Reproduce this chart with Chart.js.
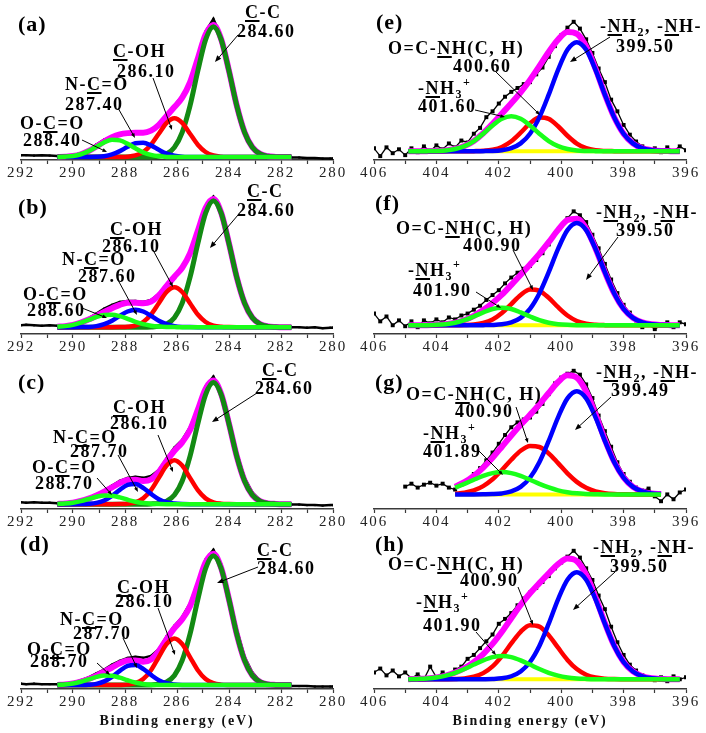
<!DOCTYPE html>
<html>
<head>
<meta charset="utf-8">
<script src="https://cdn.jsdelivr.net/npm/chart.js@4.4.1/dist/chart.umd.min.js"></script>
<style>
  html, body { margin: 0; padding: 0; background: #fff; }
  #fig { position: relative; width: 706px; height: 733px; overflow: hidden; background: #fff; }
  #fig canvas { position: absolute; }
  .lbl { position: absolute; white-space: nowrap; font-family: "Liberation Serif", "Times New Roman", serif;
         font-weight: bold; font-size: 18px; line-height: 1; letter-spacing: 1.5px; color: #000; z-index: 5; }
  .lbl u { text-decoration-thickness: 1.5px; text-underline-offset: 2px; }
  .lbl .sb, .lbl .sp { font-size: 12px; line-height: 0; position: relative; }
  .lbl .sb { top: 4px; }
  .lbl .sp { top: -8px; }
  .lbl.tag { font-size: 22px; letter-spacing: 1px; }
</style>
</head>
<body>
<div id="fig"></div>
<script>
// ---------- axes ----------
const carbonRange = [280, 292];
const nitrogenRange = [396, 406];
const carbonTicks = [292, 290, 288, 286, 284, 282, 280];
const nitrogenTicks = [406, 404, 402, 400, 398, 396];
const axisTitle = "Binding energy (eV)";

// ---------- energies (eV) ----------
const rawEnergyC = [292.0, 291.8, 291.5, 291.2, 290.9, 290.6, 290.3, 290.0, 289.7, 289.4, 289.1, 288.8, 288.5, 288.2,
  287.9, 287.6, 287.3, 287.0, 286.7, 286.4, 286.1, 285.8, 285.5, 285.2, 284.9, 284.6, 284.3, 284.0, 283.7, 283.4,
  283.1, 282.8, 282.5, 282.2, 281.9, 281.6, 281.3, 281.0, 280.7, 280.4, 280.1, 280.0];
const fitEnergyC = [290.6, 290.3, 290.0, 289.7, 289.4, 289.1, 288.8, 288.5, 288.2, 287.9, 287.6, 287.3, 287.0, 286.7,
  286.4, 286.1, 285.8, 285.5, 285.2, 284.9, 284.6, 284.3, 284.0, 283.7, 283.4, 283.1, 282.8, 282.5, 282.2, 281.9, 281.6];
const rawEnergyN = [406.0, 405.8, 405.6, 405.4, 405.2, 405.0, 404.8, 404.6, 404.4, 404.2, 404.0, 403.8, 403.6, 403.4,
  403.2, 403.0, 402.8, 402.6, 402.4, 402.2, 402.0, 401.8, 401.6, 401.4, 401.2, 401.0, 400.8, 400.6, 400.4, 400.2,
  400.0, 399.8, 399.6, 399.4, 399.2, 399.0, 398.8, 398.6, 398.4, 398.2, 398.0, 397.8, 397.6, 397.4, 397.2, 397.0,
  396.8, 396.6, 396.4, 396.2, 396.0];
const fitEnergyN = [404.9, 404.6, 404.3, 404.0, 403.7, 403.4, 403.1, 402.8, 402.5, 402.2, 401.9, 401.6, 401.3, 401.0,
  400.7, 400.4, 400.1, 399.8, 399.5, 399.2, 398.9, 398.6, 398.3, 398.0, 397.7, 397.4, 397.1, 396.8, 396.5, 396.2];
const fitEnergyG = [403.4, 403.1, 402.8, 402.5, 402.2, 401.9, 401.6, 401.3, 401.0, 400.7, 400.4, 400.1, 399.8, 399.5,
  399.2, 398.9, 398.6, 398.3, 398.0, 397.7, 397.4, 397.1, 396.8];

// ---------- (a) C1s ----------
const rawA = [5, 5, 4.5, 5, 4.5, 4, 4.5, 5, 7, 10, 16, 21, 24, 26, 27, 28, 28.5, 31, 37, 46, 56, 66, 81, 105, 132, 145,
  127, 93, 58, 30, 14, 7, 4.5, 3.5, 3, 2.5, 2.5, 2, 2, 1.5, 1.5, 1.5];
const envA = [3.1, 3.4, 4.1, 5.9, 9.2, 13.9, 19.0, 23.5, 26.4, 27.6, 27.9, 27.9, 30.1, 36.1, 45.2, 54.4, 64.1, 79.8,
  104.1, 128.9, 138.7, 124.1, 91.5, 55.7, 28.5, 13.0, 6.2, 3.8, 3.2, 3.0, 3.0];
const ccA = [3, 3, 3, 3, 3, 3, 3, 3, 3, 3, 3, 3, 3.2, 3.8, 6.2, 13.0, 28.5, 55.7, 91.4, 123.7, 137, 123.7, 91.4, 55.7,
  28.5, 13.0, 6.2, 3.8, 3.2, 3, 3];
const cohA = [3, 3, 3, 3, 3, 3, 3, 3, 3.1, 3.4, 4.7, 8.2, 15.7, 27.0, 38.2, 43, 38.2, 27.0, 15.7, 8.2, 4.7, 3.4, 3.1,
  3, 3, 3, 3, 3, 3, 3, 3];
const ncoA = [3, 3, 3, 3, 3.05, 3.25, 3.9, 5.7, 9.1, 13.5, 17.2, 17.8, 15.0, 10.5, 6.6, 4.4, 3.4, 3.1, 3, 3, 3, 3, 3,
  3, 3, 3, 3, 3, 3, 3, 3];
const ocoA = [3.1, 3.4, 4.1, 5.9, 9.1, 13.6, 18.1, 20.8, 20.2, 16.7, 12, 7.9, 5.2, 3.8, 3.2, 3.1, 3, 3, 3, 3, 3, 3, 3,
  3, 3, 3, 3, 3, 3, 3, 3];

// ---------- (b) C1s ----------
const rawB = [9, 9.5, 9, 8.5, 9, 8.5, 9, 10, 12.5, 16, 21, 26, 30, 33, 34, 34, 33, 35, 41, 51, 60, 69, 84, 107, 131,
  141, 126, 94, 59, 33, 18, 11, 8.5, 7.5, 7, 7, 7, 6.5, 7, 6, 6.5, 6.5];
const envB = [7.4, 8.1, 9.4, 11.7, 14.8, 18.6, 22.7, 26.5, 30.0, 32.1, 32.2, 31.5, 33.3, 39.6, 49.5, 58.9, 68.1, 82.8,
  105.8, 129.4, 138.7, 124.5, 92.9, 58.1, 31.7, 16.7, 10.1, 7.8, 7.2, 7.0, 7.0];
const ccB = [7, 7, 7, 7, 7, 7, 7, 7, 7, 7, 7, 7, 7.2, 7.8, 10.1, 16.7, 31.7, 58.1, 92.8, 124.1, 137, 124.1, 92.8, 58.1,
  31.7, 16.7, 10.1, 7.8, 7.2, 7, 7];
const cohB = [7, 7, 7, 7, 7, 7, 7, 7, 7.1, 7.4, 8.7, 12.3, 20.0, 31.6, 43.1, 48, 43.1, 31.6, 20.0, 12.3, 8.7, 7.4, 7.1,
  7, 7, 7, 7, 7, 7, 7, 7];
const ncoB = [7, 7, 7, 7.1, 7.3, 8.1, 10.1, 13.6, 18.6, 23.1, 25, 23.1, 18.6, 13.6, 10.1, 8.1, 7.3, 7.1, 7, 7, 7, 7,
  7, 7, 7, 7, 7, 7, 7, 7, 7];
const ocoB = [7.4, 8.1, 9.4, 11.6, 14.5, 17.5, 19.6, 19.9, 18.3, 15.6, 12.5, 10.1, 8.5, 7.6, 7.2, 7.1, 7, 7, 7, 7, 7,
  7, 7, 7, 7, 7, 7, 7, 7, 7, 7];

// ---------- (c) C1s ----------
const rawC = [7, 6.5, 7, 6.5, 6.5, 6, 6.5, 7, 9, 11.5, 15, 19, 24, 29, 32, 33, 32, 34, 40, 52, 63, 71, 84, 104, 126,
  136, 121, 91, 58, 32, 17, 9, 6.5, 5.5, 5, 4.5, 4.5, 4, 4, 3.5, 4, 4];
const envC = [5.2, 5.6, 6.4, 8.2, 10.7, 13.9, 17.7, 22.1, 26.7, 29.8, 30.0, 28.7, 30.4, 38.0, 49.5, 59.9, 68.5, 81.1,
  101.8, 123.5, 131.9, 118.1, 87.6, 54.1, 28.8, 14.3, 8.0, 5.8, 5.2, 5.0, 5.0];
const ccC = [5, 5, 5, 5, 5, 5, 5, 5, 5, 5, 5, 5, 5.2, 5.8, 8.0, 14.3, 28.8, 54.1, 87.5, 117.6, 130, 117.6, 87.5, 54.1,
  28.8, 14.3, 8.0, 5.8, 5.2, 5, 5];
const cohC = [5, 5, 5, 5, 5, 5, 5, 5, 5.1, 5.5, 6.9, 10.9, 19.3, 32.0, 44.6, 50, 44.6, 32.0, 19.3, 10.9, 6.9, 5.5, 5.1,
  5, 5, 5, 5, 5, 5, 5, 5];
const ncoC = [5, 5, 5, 5.1, 5.4, 6.3, 8.8, 13.5, 19.7, 24.8, 25.7, 21.7, 15.5, 10.1, 6.9, 5.6, 5.1, 5, 5, 5, 5, 5, 5,
  5, 5, 5, 5, 5, 5, 5, 5];
const ocoC = [5.2, 5.6, 6.4, 8.1, 10.3, 12.6, 13.9, 13.6, 11.9, 9.5, 7.4, 6.1, 5.4, 5.1, 5, 5, 5, 5, 5, 5, 5, 5, 5, 5,
  5, 5, 5, 5, 5, 5, 5];

// ---------- (d) C1s ----------
const rawD = [5.5, 5, 5.5, 5, 5, 5, 5.5, 6.5, 9, 12, 16, 20, 25, 29, 32, 33, 32, 34, 41, 54, 65, 74, 88, 110, 133, 143,
  128, 96, 61, 33, 17, 8, 5, 4, 3.5, 3, 3, 3, 2.5, 2.5, 2.5, 2.5];
const envD = [4.2, 4.6, 5.6, 7.5, 10.3, 13.7, 17.7, 22.1, 26.4, 29.3, 29.4, 28.1, 30.4, 38.9, 51.3, 62.5, 71.6, 85.1,
  107.1, 130.0, 139.0, 124.3, 91.9, 56.3, 29.3, 13.9, 7.2, 4.8, 4.2, 4.0, 4.0];
const ccD = [4, 4, 4, 4, 4, 4, 4, 4, 4, 4, 4, 4, 4.2, 4.8, 7.2, 13.9, 29.3, 56.3, 91.8, 123.8, 137, 123.8, 91.8, 56.3,
  29.3, 13.9, 7.2, 4.8, 4.2, 4, 4];
const cohD = [4, 4, 4, 4, 4, 4, 4, 4, 4.1, 4.5, 6.0, 10.2, 19.3, 32.8, 46.2, 52, 46.2, 32.8, 19.3, 10.2, 6.0, 4.5, 4.1,
  4, 4, 4, 4, 4, 4, 4, 4];
const ncoD = [4, 4, 4, 4.1, 4.4, 5.3, 7.8, 12.5, 18.7, 23.8, 24.7, 20.7, 14.5, 9.1, 5.9, 4.6, 4.1, 4, 4, 4, 4, 4, 4,
  4, 4, 4, 4, 4, 4, 4, 4];
const ocoD = [4.2, 4.6, 5.6, 7.4, 9.9, 12.4, 13.9, 13.6, 11.6, 9.0, 6.7, 5.2, 4.4, 4.1, 4, 4, 4, 4, 4, 4, 4, 4, 4, 4,
  4, 4, 4, 4, 4, 4, 4];

// ---------- (e) N1s ----------
const rawE = [12, 4, 13, 7, 11, 5, 12, 8, 14, 9, 15, 11, 17, 13, 20, 18, 27, 33, 44, 50, 58, 65, 70, 74, 78, 80, 88, 95,
  106, 117, 128, 136, 142, 135, 124, 110, 94, 80, 62, 50, 36, 26, 19, 14, 10, 12, 8, 13, 9, 14, 10];
const envE = [9, 9, 9.1, 9.3, 9.8, 11.3, 14.3, 19.6, 27.5, 37.3, 47.8, 58.3, 69.5, 82.2, 96.4, 110.9, 123.7, 131.4,
  129.7, 116.6, 93.8, 67.4, 43.9, 27, 17.1, 12.1, 10.1, 9.3, 9.1, 9];
const nh2E = [9, 9, 9, 9, 9, 9, 9, 9, 9.1, 9.3, 10.1, 12.1, 17.1, 27, 43.8, 67.1, 92.7, 113.2, 121, 113.2, 92.7, 67.1,
  43.8, 27, 17.1, 12.1, 10.1, 9.3, 9.1, 9];
const amideE = [9, 9, 9, 9, 9, 9, 9, 9.1, 9.4, 10.5, 13.4, 19.2, 28.1, 37.7, 43.6, 42.3, 34.7, 24.9, 16.9, 12.1, 10.0,
  9.3, 9.1, 9, 9, 9, 9, 9, 9, 9];
const nh3E = [9, 9, 9.1, 9.3, 9.8, 11.3, 14.3, 19.5, 27, 35.5, 42.3, 45, 42.3, 35.5, 27, 19.5, 14.3, 11.3, 9.8, 9.3,
  9.1, 9, 9, 9, 9, 9, 9, 9, 9, 9];
const bgE = [9, 9];

// ---------- (f) N1s ----------
const rawF = [21, 13, 18, 9, 14, 8, 13, 7, 14, 11, 15, 12, 17, 15, 19, 21, 25, 29, 35, 40, 45, 52, 58, 63, 67, 70, 76,
  83, 92, 103, 111, 119, 126, 122, 115, 102, 88, 72, 56, 42, 30, 22, 14, 7, 10, 5, 9, 12, 7, 12, 10];
const envF = [9, 9.0, 9.1, 9.4, 10.1, 11.6, 14.4, 18.7, 24.6, 31.9, 40.5, 50.5, 60.9, 71.5, 82.3, 94.3, 107.0, 117.1,
  118.5, 108.3, 87.9, 63.6, 41.7, 25.9, 16.6, 12.0, 10.0, 9.3, 9.1, 9.0];
const nh2F = [9, 9, 9, 9, 9, 9, 9, 9, 9.1, 9.3, 10.0, 12.0, 16.6, 25.9, 41.7, 63.5, 87.4, 106.7, 114, 106.7, 87.4, 63.5,
  41.7, 25.9, 16.6, 12.0, 10.0, 9.3, 9.1, 9];
const amideF = [9, 9, 9, 9, 9, 9.0, 9.2, 9.7, 11.3, 14.9, 21.5, 30.8, 40.1, 45.6, 44.4, 37.2, 27.5, 19.0, 13.4, 10.6,
  9.5, 9.1, 9.0, 9, 9, 9, 9, 9, 9, 9];
const nh3F = [9, 9, 9.1, 9.4, 10.1, 11.6, 14.2, 18, 22.2, 25.7, 27, 25.7, 22.2, 18, 14.2, 11.6, 10.1, 9.4, 9.1, 9, 9,
  9, 9, 9, 9, 9, 9, 9, 9, 9];
const bgF = [9, 9];

// ---------- (g) N1s ----------
const rawG = [null, null, null, null, null, 23, 26, 22, 25, 27, 24, 26, 22, 20, 25, 29, 36, 42, 50, 58, 67, 76, 84, 89,
  92, 94, 100, 108, 118, 129, 135, 139, 142, 138, 128, 114, 96, 80, 64, 48, 36, 28, 22, 19, 21, 13, 8, 15, 10, 17, 20];
const envG = [22.8, 27.6, 34.1, 42.6, 52.7, 64.0, 75.5, 86.5, 96.8, 107.5, 119.2, 130.5, 137.5, 135.0, 120.9, 97.5,
  71.3, 48.5, 32.3, 22.7, 18.0, 16.0, 15.3];
const nh2G = [15, 15, 15, 15.1, 15.3, 16.0, 18.0, 22.7, 32.1, 48.0, 70.0, 94.2, 113.6, 121, 113.6, 94.2, 70.0, 48.0,
  32.1, 22.7, 18.0, 16.0, 15.3];
const amideG = [15.7, 16.8, 19.1, 23.5, 30.5, 40, 50.6, 59.8, 64.7, 63.7, 57.1, 47.1, 36.6, 27.9, 21.8, 18.1, 16.3,
  15.5, 15.2, 15, 15, 15, 15];
const nh3G = [22.1, 25.8, 30, 34, 36.9, 38, 36.9, 34, 30, 25.8, 22.1, 19.2, 17.3, 16.1, 15.5, 15.2, 15, 15, 15, 15, 15,
  15, 15];
const bgG = [15, 15];

// ---------- (h) N1s ----------
const rawH = [17, 21, 14, 19, 13, 17, 11, 15, 10, 23, 12, 17, 14, 20, 23, 31, 35, 42, 49, 56, 67, 72, 78, 86, 93, 99,
  104, 110, 116, 124, 130, 136, 142, 135, 124, 112, 96, 82, 64, 48, 35, 25, 19, 14, 12, 9, 12, 8, 13, 10, 12];
const envH = [10.1, 10.4, 10.9, 11.9, 13.8, 16.9, 21.4, 27.7, 35.9, 46.3, 58.8, 72.7, 86.3, 98.3, 108.8, 118.9, 128.3,
  134.1, 131.4, 117.4, 94.1, 67.8, 44.4, 27.8, 18.0, 13.1, 11.0, 10.3, 10.1, 10.0];
const nh2H = [10, 10, 10, 10, 10, 10, 10, 10, 10.1, 10.3, 11.0, 13.1, 18.0, 27.7, 44.2, 67.1, 92.2, 112.3, 120, 112.3,
  92.2, 67.1, 44.2, 27.7, 18.0, 13.1, 11.0, 10.3, 10.1, 10];
const amideH = [10, 10, 10, 10, 10.1, 10.3, 10.9, 12.6, 16.3, 23.2, 33.8, 46.8, 58.8, 65.5, 64.1, 55.2, 42.4, 29.9,
  20.5, 14.7, 11.8, 10.6, 10.2, 10.1, 10, 10, 10, 10, 10, 10];
const nh3H = [10.1, 10.4, 10.9, 11.9, 13.7, 16.6, 20.5, 25.1, 29.5, 32.8, 34, 32.8, 29.5, 25.1, 20.5, 16.6, 13.7, 11.9,
  10.9, 10.4, 10.1, 10, 10, 10, 10, 10, 10, 10, 10, 10];
const bgH = [10, 10];

// ---------- colours ----------
const GREEN_DARK = "#138a13", RED = "#ff0000", BLUE = "#0000ff", LIME = "#19ff19", MAGENTA = "#ff00ff", YELLOW = "#ffff00";

// ---------- panels: placement on the page ----------
const panels = [
  { left: 1, top: 10, h: 180, carbon: true, rawX: rawEnergyC, raw: rawA, fitX: fitEnergyC, env: envA,
    comps: [[ccA, GREEN_DARK, 3], [cohA, RED, 2], [ncoA, BLUE, 1], [ocoA, LIME, 0]],
    arrows: [[238, 35, 215, 62, 7], [153, 78, 172, 130, 5], [118, 108, 135, 138, 5], [82, 140, 107, 152, 5]] },
  { left: 1, top: 184, h: 180, carbon: true, rawX: rawEnergyC, raw: rawB, fitX: fitEnergyC, env: envB,
    comps: [[ccB, GREEN_DARK, 3], [cohB, RED, 2], [ncoB, BLUE, 1], [ocoB, LIME, 0]],
    arrows: [[238, 215, 210, 248, 7], [153, 250, 173, 287, 5], [118, 280, 137, 315, 5], [82, 308, 107, 318, 5]] },
  { left: 1, top: 359, h: 180, carbon: true, rawX: rawEnergyC, raw: rawC, fitX: fitEnergyC, env: envC,
    comps: [[ccC, GREEN_DARK, 3], [cohC, RED, 2], [ncoC, BLUE, 1], [ocoC, LIME, 0]],
    arrows: [[257, 393, 212, 422, 7], [158, 435, 173, 472, 5], [118, 455, 138, 492, 5], [97, 478, 112, 495, 5]] },
  { left: 1, top: 539, h: 194, carbon: true, rawX: rawEnergyC, raw: rawD, fitX: fitEnergyC, env: envD,
    comps: [[ccD, GREEN_DARK, 3], [cohD, RED, 2], [ncoD, BLUE, 1], [ocoD, LIME, 0]],
    arrows: [[258, 567, 217, 583, 7], [158, 608, 175, 655, 5], [123, 638, 137, 668, 5], [97, 663, 110, 675, 5]] },
  { left: 354, top: 10, h: 180, carbon: false, rawX: rawEnergyN, raw: rawE, fitX: fitEnergyN, env: envE, bg: bgE,
    comps: [[amideE, RED, 2], [nh2E, BLUE, 1], [nh3E, LIME, 0]],
    arrows: [[610, 37, 570, 62, 7], [496, 72, 540, 115, 5], [475, 110, 505, 117, 5]] },
  { left: 354, top: 184, h: 180, carbon: false, rawX: rawEnergyN, raw: rawF, fitX: fitEnergyN, env: envF, bg: bgF,
    comps: [[amideF, RED, 2], [nh2F, BLUE, 1], [nh3F, LIME, 0]],
    arrows: [[618, 237, 586, 280, 7], [513, 250, 533, 290, 5], [476, 292, 501, 308, 5]] },
  { left: 354, top: 359, h: 180, carbon: false, rawX: rawEnergyN, raw: rawG, fitX: fitEnergyG, env: envG, bg: bgG,
    comps: [[amideG, RED, 2], [nh2G, BLUE, 1], [nh3G, LIME, 0]],
    arrows: [[611, 397, 575, 430, 7], [516, 407, 528, 443, 5], [478, 450, 503, 475, 5]] },
  { left: 354, top: 539, h: 194, carbon: false, rawX: rawEnergyN, raw: rawH, fitX: fitEnergyN, env: envH, bg: bgH,
    comps: [[amideH, RED, 2], [nh2H, BLUE, 1], [nh3H, LIME, 0]],
    arrows: [[615, 572, 573, 610, 7], [518, 587, 533, 625, 5], [476, 632, 496, 655, 5]] }
];

// annotation text: [left, baseline, html, extra class]
const NH3 = '-<u>N</u>H<span class="sb">3</span><span class="sp">+</span>';
const NH2 = '-<u>N</u>H<span class="sb">2</span>, -<u>N</u>H-';
const AMIDE = 'O=C-<u>N</u>H(C, H)';
const labels = [
  [18, 31, "(a)", "tag"], [245, 18, "<u>C</u>-C"], [237, 37, "284.60"], [113, 57, "<u>C</u>-OH"], [117, 77, "286.10"],
  [65, 90, "N-<u>C</u>=O"], [65, 110, "287.40"], [20, 129, "O-<u>C</u>=O"], [23, 146, "288.40"],
  [18, 214, "(b)", "tag"], [247, 197, "<u>C</u>-C"], [237, 216, "284.60"], [110, 235, "<u>C</u>-OH"], [102, 252, "286.10"],
  [62, 265, "N-<u>C</u>=O"], [78, 282, "287.60"], [23, 300, "O-<u>C</u>=O"], [27, 316, "288.60"],
  [18, 389, "(c)", "tag"], [262, 376, "<u>C</u>-C"], [255, 394, "284.60"], [113, 413, "<u>C</u>-OH"], [110, 429, "286.10"],
  [53, 443, "N-<u>C</u>=O"], [70, 457, "287.70"], [32, 473, "O-<u>C</u>=O"], [35, 489, "288.70"],
  [20, 551, "(d)", "tag"], [257, 556, "<u>C</u>-C"], [257, 574, "284.60"], [117, 593, "<u>C</u>-OH"], [115, 607, "286.10"],
  [60, 625, "N-<u>C</u>=O"], [73, 639, "287.70"], [27, 655, "O-<u>C</u>=O"], [30, 667, "288.70"],
  [376, 29, "(e)", "tag"], [388, 54, AMIDE], [453, 72, "400.60"], [418, 94, NH3], [418, 112, "401.60"],
  [600, 32, NH2], [616, 52, "399.50"],
  [375, 210, "(f)", "tag"], [396, 234, AMIDE], [463, 251, "400.90"], [408, 276, NH3], [413, 296, "401.90"],
  [596, 218, NH2], [616, 236, "399.50"],
  [375, 389, "(g)", "tag"], [406, 400, AMIDE], [455, 417, "400.90"], [423, 439, NH3], [423, 457, "401.89"],
  [596, 378, NH2], [611, 396, "399.49"],
  [375, 551, "(h)", "tag"], [388, 570, AMIDE], [460, 586, "400.90"], [416, 608, NH3], [423, 631, "401.90"],
  [593, 553, NH2], [610, 572, "399.50"]
];

const fig = document.getElementById("fig");

function pts(xs, ys) {
  return xs.map((x, i) => ({ x: x, y: ys[i] }));
}

// canvas text gets the same loose spacing as the figure
const spacingPlugin = {
  id: "spacing",
  beforeDraw(chart) { chart.ctx.letterSpacing = "1.8px"; }
};

function drawArrows(ctx, p) {
  ctx.save();
  ctx.letterSpacing = "0px";
  ctx.strokeStyle = "#000";
  ctx.fillStyle = "#000";
  ctx.lineWidth = 1;
  p.arrows.forEach(a => {
    const x1 = a[0] - p.left, y1 = a[1] - p.top, x2 = a[2] - p.left, y2 = a[3] - p.top, hs = a[4];
    const ang = Math.atan2(y2 - y1, x2 - x1);
    ctx.beginPath();
    ctx.moveTo(x1, y1);
    ctx.lineTo(x2 - Math.cos(ang) * hs * 0.6, y2 - Math.sin(ang) * hs * 0.6);
    ctx.stroke();
    ctx.beginPath();
    ctx.moveTo(x2, y2);
    ctx.lineTo(x2 - hs * Math.cos(ang - 0.38), y2 - hs * Math.sin(ang - 0.38));
    ctx.lineTo(x2 - hs * Math.cos(ang + 0.38), y2 - hs * Math.sin(ang + 0.38));
    ctx.closePath();
    ctx.fill();
  });
  ctx.restore();
}

function makePanel(p) {
  const cv = document.createElement("canvas");
  cv.width = 352;
  cv.height = p.h;
  cv.style.left = p.left + "px";
  cv.style.top = p.top + "px";
  cv.style.width = "352px";
  cv.style.height = p.h + "px";
  fig.appendChild(cv);

  const bottom = p.h > 180;
  const range = p.carbon ? carbonRange : nitrogenRange;
  const tickLabels = p.carbon ? carbonTicks : nitrogenTicks;

  const datasets = [];
  datasets.push({
    data: pts(p.rawX, p.raw), borderColor: "#000", borderWidth: p.carbon ? 2.5 : 1.3,
    pointStyle: "rect", pointRadius: p.carbon ? 1.5 : 2.8, pointBackgroundColor: "#000",
    pointBorderWidth: 0, order: 6
  });
  datasets.push({
    data: pts(p.fitX, p.env), borderColor: MAGENTA, borderWidth: 6,
    cubicInterpolationMode: "monotone", order: 5
  });
  if (p.bg) {
    datasets.push({
      data: pts([p.fitX[0], p.fitX[p.fitX.length - 1]], p.bg), borderColor: YELLOW, borderWidth: 4, order: 4
    });
  }
  p.comps.forEach(c => {
    datasets.push({
      data: pts(p.fitX, c[0]), borderColor: c[1], borderWidth: c[1] === GREEN_DARK ? 5 : 4.5,
      cubicInterpolationMode: "monotone", order: c[2]
    });
  });

  new Chart(cv, {
    type: "line",
    data: { datasets: datasets },
    options: {
      responsive: false,
      animation: false,
      devicePixelRatio: 1,
      layout: { padding: { left: 20, right: 20, top: 0, bottom: 0 } },
      plugins: { legend: { display: false }, tooltip: { enabled: false } },
      elements: { point: { radius: 0 }, line: { tension: 0 } },
      scales: {
        x: {
          type: "linear",
          reverse: true,
          min: range[0],
          max: range[1],
          afterFit: s => { s.height = bottom ? 44 : 30; },
          border: { display: true, color: "#3a3a3a", width: 1.5 },
          grid: { display: true, drawOnChartArea: false, drawTicks: true, tickLength: 4, tickColor: "#3a3a3a", tickWidth: 1.2 },
          ticks: {
            stepSize: 1, autoSkip: false, maxRotation: 0, padding: 0, color: "#222",
            font: { family: "'Liberation Serif', 'Times New Roman', serif", size: 15 },
            callback: v => tickLabels.includes(v) ? String(v) : ""
          },
          title: {
            display: bottom, text: axisTitle, color: "#111",
            font: { family: "'Liberation Serif', 'Times New Roman', serif", size: 14, weight: "bold" },
            padding: { top: 0, bottom: 3 }
          }
        },
        y: { display: false, min: 0, max: 150 }
      }
    },
    plugins: [spacingPlugin, { id: "arrows", afterDatasetsDraw(chart) { drawArrows(chart.ctx, p); } }]
  });
}

panels.forEach(makePanel);

// annotation labels (line-height 1: baseline sits 0.8375 em below the box top)
labels.forEach(l => {
  const d = document.createElement("div");
  d.className = "lbl" + (l[3] ? " " + l[3] : "");
  const size = l[3] === "tag" ? 22 : 18;
  d.style.left = l[0] + "px";
  d.style.top = (l[1] - size * 0.8375).toFixed(1) + "px";
  d.innerHTML = l[2];
  fig.appendChild(d);
});
</script>
</body>
</html>
